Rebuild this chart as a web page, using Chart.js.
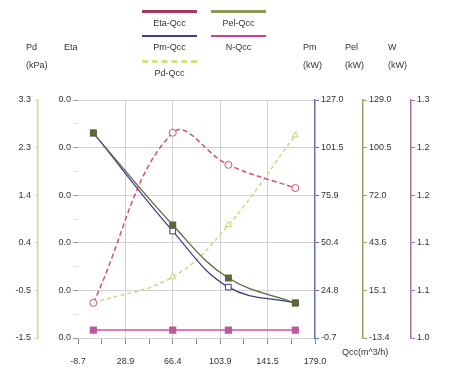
<!DOCTYPE html>
<html>
<head>
<meta charset="utf-8">
<script src="https://cdn.jsdelivr.net/npm/chart.js@4.4.0/dist/chart.umd.min.js"></script>
<style>
  html, body { margin: 0; padding: 0; background: #fff; }
  #wrap { position: relative; width: 451px; height: 371px; font-family: "Liberation Sans", Arial, sans-serif; font-size: 9px; color: #333; }
  #wrap canvas { position: absolute; left: 0; top: 0; }
  .lg { position: absolute; width: 55px; text-align: center; line-height: 10px; }
  .lg .ln { height: 0; border-top: 3px solid; margin-bottom: 5px; }
  .hd { position: absolute; line-height: 18px; }
</style>
</head>
<body>
<div id="wrap">
  <canvas id="chart" width="451" height="371"></canvas>

  <!-- legend -->
  <div class="lg" style="left:142px;top:10px"><div class="ln" style="border-color:#a8385c"></div>Eta-Qcc</div>
  <div class="lg" style="left:211px;top:10px"><div class="ln" style="border-color:#8c9a58"></div>Pel-Qcc</div>
  <div class="lg" style="left:142px;top:35px"><div class="ln" style="border-color:#3c3c8c;border-top-width:2px"></div>Pm-Qcc</div>
  <div class="lg" style="left:211px;top:35px"><div class="ln" style="border-color:#d03c9c;border-top-width:2px"></div>N-Qcc</div>
  <div class="lg" style="left:142px;top:60px"><div class="ln" style="border-color:#d6df84;border-top-style:dashed"></div>Pd-Qcc</div>

  <!-- axis headers -->
  <div class="hd" style="left:26px;top:38px">Pd<br>(kPa)</div>
  <div class="hd" style="left:64px;top:38px">Eta</div>
  <div class="hd" style="left:303px;top:38px">Pm<br>(kW)</div>
  <div class="hd" style="left:345px;top:38px">Pel<br>(kW)</div>
  <div class="hd" style="left:388px;top:38px">W<br>(kW)</div>
  <div class="hd" style="left:342px;top:343px">Qcc(m^3/h)</div>
</div>

<script>
// data
const qValues = [3.5, 66.4, 110.5, 163.5];
const etaValues = [0.0059, 0.0345, 0.0291, 0.0252];
const pmValues = [109.3, 56.7, 26.6, 18.1];
const pelValues = [109.2, 54.2, 22.5, 7.5];
const nValues = [1.01, 1.01, 1.01, 1.01];
const pdValues = [-0.79, -0.27, 0.78, 2.59];

// axis ranges and tick labels
const xRange = [-8.65, 179.1];
const xTickLabels = ['-8.7', '28.9', '66.4', '103.9', '141.5', '179.0'];
const pdRange = [-1.5, 3.3];
const etaRange = [0, 0.04];
const pmRange = [-0.7, 127.0];
const pelRange = [-13.4, 129.0];
const nRange = [1.0, 1.3];

const tickFont = { family: '"Liberation Sans", Arial, sans-serif', size: 9 };

function points(ys) {
    return qValues.map((q, i) => ({ x: q, y: ys[i] }));
}

function fixWidth(w) {
    return function(scale) { scale.width = w; };
}

// right side value axis with its coloured line
function sideAxis(range, color, width, weight, position) {
    return {
        type: 'linear',
        position: position,
        weight: weight,
        min: range[0],
        max: range[1],
        afterFit: fixWidth(width),
        border: { display: true, color: color, width: 1.5 },
        grid: { drawOnChartArea: false, color: color, tickLength: 4 },
        ticks: {
            stepSize: (range[1] - range[0]) / 5,
            padding: 2,
            color: '#333',
            font: tickFont,
            callback: v => v.toFixed(1)
        }
    };
}

const pdAxis = sideAxis(pdRange, '#cfd98a', 38, 1, 'left');
pdAxis.grid.tickLength = 3;
pdAxis.ticks.padding = 4;

new Chart(document.getElementById('chart'), {
    type: 'line',
    data: {
        datasets: [
            {
                label: 'Eta-Qcc',
                data: points(etaValues),
                yAxisID: 'eta',
                borderColor: '#d4506c',
                borderWidth: 1.5,
                borderDash: [5, 3],
                tension: 0.4,
                pointStyle: 'circle',
                pointRadius: 3.5,
                pointBackgroundColor: '#fff',
                pointBorderColor: '#d4506c',
                pointBorderWidth: 1
            },
            {
                label: 'Pel-Qcc',
                data: points(pelValues),
                yAxisID: 'pel',
                borderColor: '#5e6840',
                borderWidth: 1.3,
                tension: 0.4,
                pointStyle: 'rect',
                pointRadius: 4,
                pointBackgroundColor: '#5c6638',
                pointBorderColor: '#5c6638'
            },
            {
                label: 'Pm-Qcc',
                data: points(pmValues),
                yAxisID: 'pm',
                borderColor: '#3c3c8c',
                borderWidth: 1.2,
                tension: 0.4,
                pointStyle: 'rect',
                pointRadius: 4,
                pointBackgroundColor: '#fff',
                pointBorderColor: '#3c3c8c',
                pointBorderWidth: 1
            },
            {
                label: 'N-Qcc',
                data: points(nValues),
                yAxisID: 'n',
                borderColor: '#d050a4',
                borderWidth: 1.5,
                tension: 0.4,
                pointStyle: 'rect',
                pointRadius: 4,
                pointBackgroundColor: '#c0569a',
                pointBorderColor: '#c0569a'
            },
            {
                label: 'Pd-Qcc',
                data: points(pdValues),
                yAxisID: 'pd',
                borderColor: '#cdd880',
                borderWidth: 1.5,
                borderDash: [4, 3],
                tension: 0.4,
                pointStyle: 'triangle',
                pointRadius: 3.5,
                pointBackgroundColor: '#fff',
                pointBorderColor: '#c2cf70',
                pointBorderWidth: 1
            }
        ]
    },
    options: {
        responsive: false,
        animation: false,
        devicePixelRatio: 1,
        layout: { padding: { top: 100, left: 0, right: 0, bottom: 0 } },
        plugins: { legend: { display: false }, tooltip: { enabled: false } },
        scales: {
            x: {
                type: 'linear',
                min: xRange[0],
                max: xRange[1],
                afterFit: s => { s.height = 33; },
                border: { display: false },
                grid: {
                    color: ctx => (ctx.index % 2 === 0 && ctx.index > 0 && ctx.index < 10) ? '#d2d2d2' : 'rgba(0,0,0,0)',
                    tickColor: '#888',
                    tickLength: 6
                },
                ticks: {
                    stepSize: (xRange[1] - xRange[0]) / 10,
                    autoSkip: false,
                    maxRotation: 0,
                    padding: 12,
                    color: '#333',
                    font: tickFont,
                    callback: (v, i) => i % 2 === 0 ? xTickLabels[i / 2] : ''
                }
            },
            pd: pdAxis,
            eta: {
                type: 'linear',
                position: 'left',
                weight: 0,
                min: etaRange[0],
                max: etaRange[1],
                afterFit: fixWidth(40),
                border: { display: false },
                grid: {
                    color: ctx => ctx.index % 2 === 0 ? '#d2d2d2' : 'rgba(0,0,0,0)',
                    tickColor: ctx => ctx.index % 2 === 0 ? '#999' : '#e2e2e2',
                    tickLength: 5
                },
                ticks: {
                    stepSize: (etaRange[1] - etaRange[0]) / 10,
                    autoSkip: false,
                    padding: 2,
                    color: '#333',
                    font: tickFont,
                    callback: (v, i) => i % 2 === 0 ? v.toFixed(1) : ''
                }
            },
            pm: sideAxis(pmRange, '#6470a4', 48, 0, 'right'),
            pel: sideAxis(pelRange, '#96a064', 48, 1, 'right'),
            n: sideAxis(nRange, '#a8709c', 40, 2, 'right')
        }
    }
});
</script>
</body>
</html>
